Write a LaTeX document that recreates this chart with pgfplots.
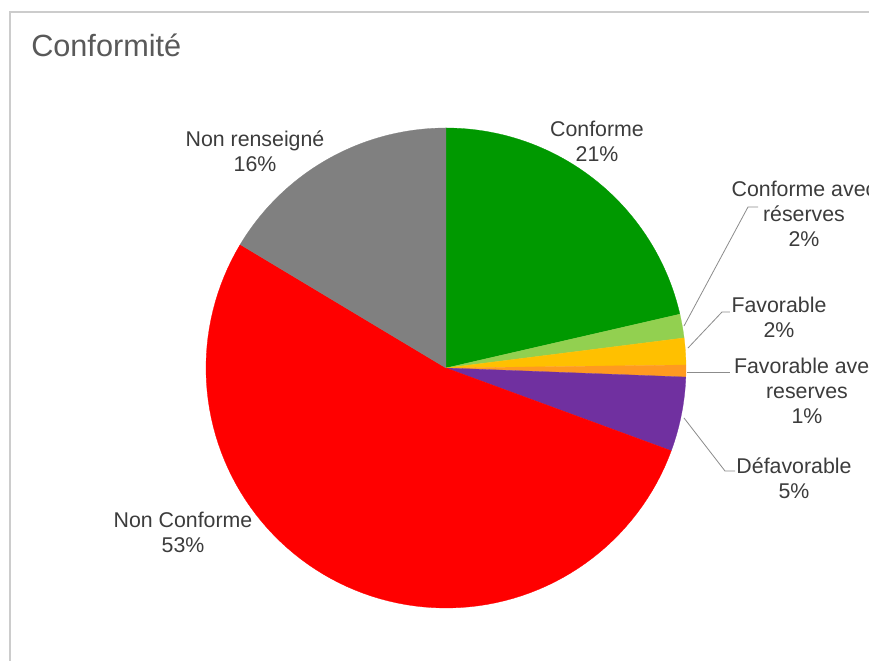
\documentclass[border=0pt]{standalone}
\usepackage{pgfplots}
\pgfplotsset{compat=1.18}
\usepackage{pgfplotstable}
\usepackage{fontspec}
\setmainfont{Liberation Sans}
\definecolor{cgreen}{RGB}{0,153,0}
\definecolor{clgreen}{RGB}{146,208,80}
\definecolor{cyellow}{RGB}{255,192,0}
\definecolor{corange}{RGB}{255,154,32}
\definecolor{cpurple}{RGB}{112,48,160}
\definecolor{cred}{RGB}{255,0,0}
\definecolor{cgray}{RGB}{128,128,128}
\definecolor{ctext}{RGB}{60,60,60}
\definecolor{ctitle}{RGB}{89,89,89}
\definecolor{cline}{RGB}{140,140,140}
\definecolor{cborder}{RGB}{204,204,204}
\tikzset{lab/.style={text=ctext, font=\fontsize{16}{18.8}\selectfont, align=center, inner sep=0pt}}
\pgfplotstableread{
name value
Conforme 21.4
ConformeAvecReserves 1.6
Favorable 1.8
FavorableAvecReserves 0.8
Defavorable 5.0
NonConforme 53.0
NonRenseigne 16.4
}\piedata
\begin{document}%
\begin{tikzpicture}
\pgfplotstablegetelem{0}{value}\of\piedata \pgfmathsetmacro\aA{90-3.6*\pgfplotsretval}
\pgfplotstablegetelem{1}{value}\of\piedata \pgfmathsetmacro\aB{\aA-3.6*\pgfplotsretval}
\pgfplotstablegetelem{2}{value}\of\piedata \pgfmathsetmacro\aC{\aB-3.6*\pgfplotsretval}
\pgfplotstablegetelem{3}{value}\of\piedata \pgfmathsetmacro\aD{\aC-3.6*\pgfplotsretval}
\pgfplotstablegetelem{4}{value}\of\piedata \pgfmathsetmacro\aE{\aD-3.6*\pgfplotsretval}
\pgfplotstablegetelem{5}{value}\of\piedata \pgfmathsetmacro\aF{\aE-3.6*\pgfplotsretval}
\pgfplotstablegetelem{6}{value}\of\piedata \pgfmathsetmacro\aG{\aF-3.6*\pgfplotsretval}
\begin{axis}[
  scale only axis, width=651.75pt, height=495.75pt,
  xmin=-1.8583, xmax=1.7625, ymin=-1.2208, ymax=1.5333,
  hide axis, clip=true, samples=90,
]
\fill[white] (axis cs:-1.8583,-1.2208) rectangle (axis cs:1.7625,1.5333);
\draw[cborder, line width=0.8pt] (axis cs:2,1.4833) -- (axis cs:-1.8167,1.4833) -- (axis cs:-1.8167,-1.3);
\node[lab, anchor=base west, text=ctitle, font=\fontsize{23}{27}\selectfont] at (axis cs:-1.7292,1.2958) {Conformité};
\addplot[fill=cgreen, draw=cgreen, line width=0.2pt, domain=\aA:90] ({cos(x)},{sin(x)}) -- (axis cs:0,0) -- cycle;
\addplot[fill=clgreen, draw=clgreen, line width=0.2pt, domain=\aB:\aA] ({cos(x)},{sin(x)}) -- (axis cs:0,0) -- cycle;
\addplot[fill=cyellow, draw=cyellow, line width=0.2pt, domain=\aC:\aB] ({cos(x)},{sin(x)}) -- (axis cs:0,0) -- cycle;
\addplot[fill=corange, draw=corange, line width=0.2pt, domain=\aD:\aC] ({cos(x)},{sin(x)}) -- (axis cs:0,0) -- cycle;
\addplot[fill=cpurple, draw=cpurple, line width=0.2pt, domain=\aE:\aD] ({cos(x)},{sin(x)}) -- (axis cs:0,0) -- cycle;
\addplot[fill=cred, draw=cred, line width=0.2pt, domain=\aF:\aE] ({cos(x)},{sin(x)}) -- (axis cs:0,0) -- cycle;
\addplot[fill=cgray, draw=cgray, line width=0.2pt, domain=\aG:\aF] ({cos(x)},{sin(x)}) -- (axis cs:0,0) -- cycle;
% leader lines
\draw[cline, line width=0.6pt] (axis cs:0.9917,0.175) -- (axis cs:1.2583,0.6708) -- (axis cs:1.3,0.6708);
\draw[cline, line width=0.6pt] (axis cs:1.0083,0.0833) -- (axis cs:1.15,0.2333) -- (axis cs:1.1833,0.2333);
\draw[cline, line width=0.6pt] (axis cs:1.0042,-0.0167) -- (axis cs:1.1833,-0.0167);
\draw[cline, line width=0.6pt] (axis cs:0.9917,-0.2083) -- (axis cs:1.1625,-0.4292) -- (axis cs:1.2042,-0.4292);
% labels
\node[lab] at (axis cs:-0.7958,0.9042) {Non renseigné\\16\%};
\node[lab] at (axis cs:0.6292,0.9458) {Conforme\\21\%};
\node[lab] at (axis cs:1.4917,0.6417) {Conforme avec\\réserves\\2\%};
\node[lab] at (axis cs:1.3875,0.2125) {Favorable\\2\%};
\node[lab] at (axis cs:1.5042,-0.0958) {Favorable avec\\reserves\\1\%};
\node[lab] at (axis cs:1.45,-0.4583) {Défavorable\\5\%};
\node[lab] at (axis cs:-1.0958,-0.6833) {Non Conforme\\53\%};
\end{axis}
\pgfresetboundingbox
\path[use as bounding box] (current axis.south west) rectangle (current axis.north east);
\end{tikzpicture}%
\end{document}
